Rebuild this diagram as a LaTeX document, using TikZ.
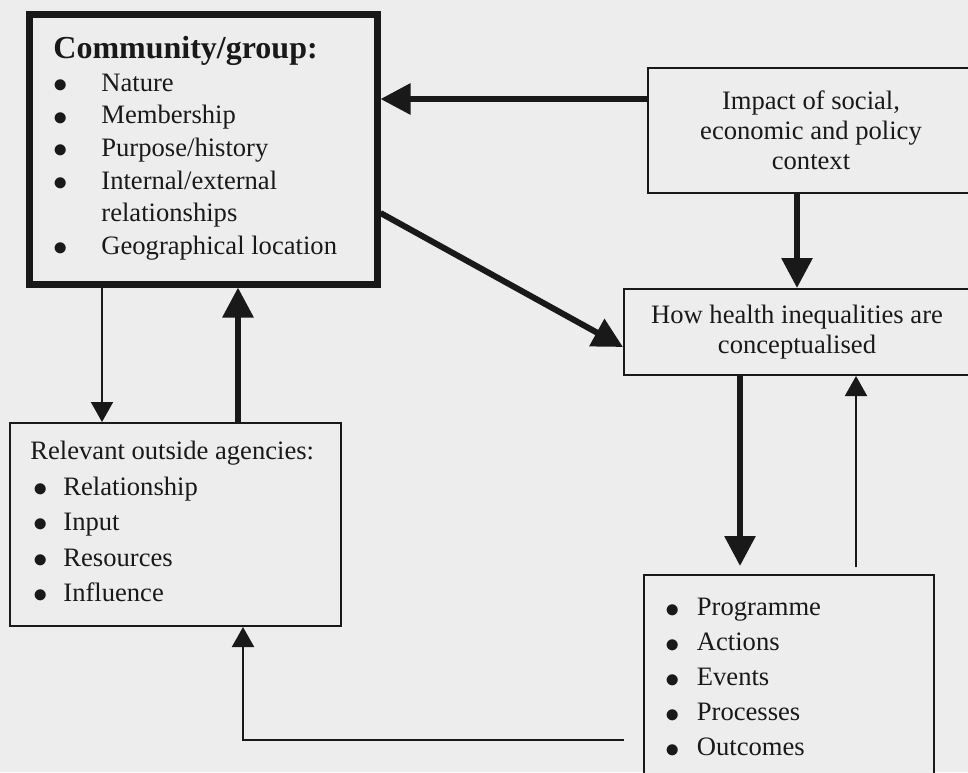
\documentclass[tikz,border=0pt]{standalone}
\usepackage{fontspec}
\setmainfont{Liberation Serif}
\usetikzlibrary{arrows.meta}
\definecolor{paper}{RGB}{237,237,237}
\definecolor{ink}{RGB}{25,25,25}
\newcommand{\bul}[1]{\makebox[#1][l]{\raisebox{-0.6pt}{\fontsize{15.5pt}{15.5pt}\selectfont$\bullet$}}}
\begin{document}
\begin{tikzpicture}[x=0.5pt,y=-0.5pt,
  box/.style={draw=ink,fill=paper,line width=1pt,inner sep=0pt},
  boldbox/.style={box,line width=3.5pt},
  txt/.style={inner sep=0pt,text=ink,font=\fontsize{13.3pt}{15pt}\selectfont},
  listtxt/.style={txt,align=left,anchor=north west},
  heavy/.style={draw=ink,line width=3pt,-{Triangle[length=15pt,width=15pt]}},
  light/.style={draw=ink,line width=1pt,-{Triangle[length=10pt,width=11pt]}}]
\useasboundingbox (0,0) rectangle (968,772);
\fill[paper] (0,0) rectangle (968,772);

% boxes
\node[boldbox,minimum width=174pt,minimum height=135pt] (comm) at (203,149) {};
\node[box,minimum width=161pt,minimum height=62.5pt] (imp) at (809,130.5) {};
\node[box,minimum width=173pt,minimum height=43pt] (how) at (797,332) {};
\node[box,minimum width=165.5pt,minimum height=101.5pt] (rel) at (175.5,524.5) {};
\node[box,minimum width=145pt,minimum height=107.5pt] (prog) at (789,682.5) {};

% box texts
\node[listtxt,font=\fontsize{13.3pt}{16.3pt}\selectfont] (commtxt) at (53,36)
  {{\fontsize{16pt}{16pt}\selectfont\bfseries Community/group:}\\
   \bul{24pt}Nature\\
   \bul{24pt}Membership\\
   \bul{24pt}Purpose/history\\
   \bul{24pt}Internal/external\\
   \hspace*{24pt}relationships\\
   \bul{24pt}Geographical location};
\node[txt,align=center] (imptxt) at (811,130) {Impact of social,\\economic and policy\\context};
\node[txt,align=center] (howtxt) at (797,332) {How health inequalities are\\conceptualised};
\node[listtxt,font=\fontsize{13.3pt}{17.7pt}\selectfont] (reltxt) at (30,441)
  {Relevant outside agencies:\\
   \hspace*{1.75pt}\bul{14.75pt}Relationship\\
   \hspace*{1.75pt}\bul{14.75pt}Input\\
   \hspace*{1.75pt}\bul{14.75pt}Resources\\
   \hspace*{1.75pt}\bul{14.75pt}Influence};
\node[listtxt,font=\fontsize{13.3pt}{17.5pt}\selectfont] (progtxt) at (665,598)
  {\bul{15.75pt}Programme\\
   \bul{15.75pt}Actions\\
   \bul{15.75pt}Events\\
   \bul{15.75pt}Processes\\
   \bul{15.75pt}Outcomes};

% connectors
\draw[heavy] (imp.west |- 0,99) -- (comm.east |- 0,99);
\draw[heavy] (comm.east |- 0,213) -- (how.west |- 0,347);
\draw[heavy] (imp.south -| 797,0) -- (how.north -| 797,0);
\draw[light] (comm.south -| 102,0) -- (rel.north -| 102,0);
\draw[heavy] (rel.north -| 238,0) -- (comm.south -| 238,0);
\draw[heavy,shorten >=4pt] (how.south -| 740,0) -- (prog.north -| 740,0);
\draw[light,shorten <=3.5pt] (prog.north -| 856,0) -- (how.south -| 856,0);
\draw[light,shorten <=9.5pt] (prog.west |- 0,740) -| (rel.south -| 243,0);
\end{tikzpicture}
\end{document}
